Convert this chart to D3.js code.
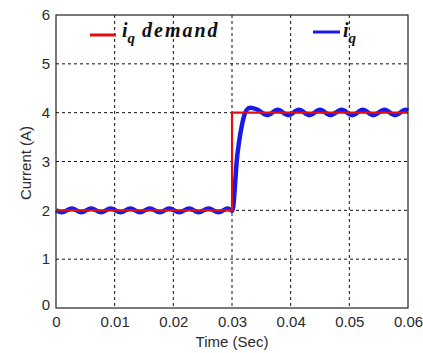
<!DOCTYPE html>
<html>
<head>
<meta charset="utf-8">
<script src="https://cdn.jsdelivr.net/npm/d3@7"></script>
<style>
  html, body { margin: 0; padding: 0; background: #fff; }
  svg { display: block; }
  .tick text { font-family: "Liberation Sans", Arial, sans-serif; font-size: 15px; fill: #2a2a2a; }
</style>
</head>
<body>
<div id="chart"></div>
<script>
// demand step
const demandTime = [0, 0.03, 0.03, 0.06];
const demandCurrent = [2, 2, 4, 4];

const iqTime = [
    0, 0.0010, 0.0027, 0.0043, 0.0060, 0.0077, 0.0093, 0.0110, 0.0127, 0.0143,
    0.0160, 0.0177, 0.0193, 0.0210, 0.0227, 0.0243, 0.0260, 0.0277, 0.0293, 0.0300,
    0.0302, 0.0305, 0.0308, 0.0312, 0.0317, 0.0321, 0.0326, 0.0331, 0.0342, 0.0360,
    0.0378, 0.0396, 0.0414, 0.0432, 0.0450, 0.0468, 0.0487, 0.0505, 0.0523, 0.0541,
    0.0560, 0.0578, 0.0596, 0.0600
];
const iqCurrent = [
    2.00, 1.96, 2.04, 1.96, 2.04, 1.96, 2.04, 1.96, 2.04, 1.96,
    2.04, 1.96, 2.04, 1.96, 2.04, 1.96, 2.04, 1.96, 2.04, 1.99,
    2.06, 2.50, 3.00, 3.40, 3.75, 3.95, 4.07, 4.10, 4.07, 3.95,
    4.06, 3.95, 4.06, 3.95, 4.06, 3.95, 4.06, 3.95, 4.06, 3.95,
    4.06, 3.95, 4.06, 4.04
];

const xTicks = [0, 0.01, 0.02, 0.03, 0.04, 0.05, 0.06];
const yTicks = [0, 1, 2, 3, 4, 5, 6];

const width = 423, height = 353;
const margin = { top: 15, right: 15, bottom: 45, left: 56 };
const plotW = width - margin.left - margin.right;
const plotH = height - margin.top - margin.bottom;

const svg = d3.select('#chart')
    .append('svg')
    .attr('width', width)
    .attr('height', height);

const x = d3.scaleLinear().domain([0, 0.06]).range([0, plotW]);
const y = d3.scaleLinear().domain([0, 6]).range([plotH, 0]);

const g = svg.append('g')
    .attr('transform', `translate(${margin.left},${margin.top})`);

// dashed grid
g.append('g')
    .selectAll('line')
    .data(xTicks.slice(1, -1))
    .join('line')
    .attr('x1', (d) => x(d)).attr('x2', (d) => x(d))
    .attr('y1', 0).attr('y2', plotH)
    .style('stroke', '#111')
    .style('stroke-dasharray', '3,3')
    .style('stroke-width', 1);

g.append('g')
    .selectAll('line')
    .data(yTicks.slice(1, -1))
    .join('line')
    .attr('x1', 0).attr('x2', plotW)
    .attr('y1', (d) => y(d)).attr('y2', (d) => y(d))
    .style('stroke', '#111')
    .style('stroke-dasharray', '3,3')
    .style('stroke-width', 1);

// axes
const xAxis = g.append('g')
    .attr('transform', `translate(0,${plotH})`)
    .call(d3.axisBottom(x).tickValues(xTicks).tickSize(0).tickPadding(8)
        .tickFormat((d) => d === 0 ? '0' : d3.format('.2f')(d)));
xAxis.select('.domain').remove();

const yAxis = g.append('g')
    .call(d3.axisLeft(y).tickValues(yTicks).tickSize(0).tickPadding(6)
        .tickFormat(d3.format('d')));
yAxis.select('.domain').remove();
yAxis.selectAll('.tick').filter((d) => d === 0).select('text').attr('dy', '0.1em');

// series
const line = d3.line()
    .x((d) => x(d[0]))
    .y((d) => y(d[1]));

g.append('path')
    .datum(d3.zip(iqTime, iqCurrent))
    .attr('d', line.curve(d3.curveMonotoneX))
    .style('fill', 'none')
    .style('stroke', '#1a1ae6')
    .style('stroke-width', 4.5)
    .style('stroke-linejoin', 'round');

g.append('path')
    .datum(d3.zip(demandTime, demandCurrent))
    .attr('d', line.curve(d3.curveLinear))
    .style('fill', 'none')
    .style('stroke', '#e01010')
    .style('stroke-width', 2.2);

// frame
g.append('rect')
    .attr('width', plotW)
    .attr('height', plotH)
    .style('fill', 'none')
    .style('stroke', '#222')
    .style('stroke-width', 1.2);

// axis titles
svg.append('text')
    .attr('x', margin.left + x(0.03))
    .attr('y', 347)
    .attr('text-anchor', 'middle')
    .style('font-family', '"Liberation Sans", Arial, sans-serif')
    .style('font-size', '15px')
    .style('fill', '#2a2a2a')
    .text('Time (Sec)');

svg.append('text')
    .attr('transform', 'translate(31,163) rotate(-90)')
    .attr('text-anchor', 'middle')
    .style('font-family', '"Liberation Sans", Arial, sans-serif')
    .style('font-size', '15px')
    .style('fill', '#2a2a2a')
    .text('Current (A)');

// legend
const legendItems = [
    { color: '#e01010', x1: 90, x2: 116, y: 35, tx: 122, label: ' demand' },
    { color: '#1a1ae6', x1: 313, x2: 340, y: 32, tx: 343, label: '' }
];

const legend = svg.append('g');
legendItems.forEach((item) => {
    legend.append('line')
        .attr('x1', item.x1).attr('x2', item.x2)
        .attr('y1', item.y).attr('y2', item.y)
        .style('stroke', item.color)
        .style('stroke-width', 3);

    const t = legend.append('text')
        .attr('x', item.tx)
        .attr('y', 37)
        .style('font-family', '"Liberation Serif", "Times New Roman", serif')
        .style('font-style', 'italic')
        .style('font-weight', 'bold')
        .style('font-size', '20px')
        .style('fill', '#111');
    t.append('tspan').text('i');
    t.append('tspan').attr('dy', 6).style('font-size', '15px').text('q');
    if (item.label) {
        t.append('tspan').attr('dy', -6).style('letter-spacing', '2px').text(item.label);
    }
});
</script>
</body>
</html>
